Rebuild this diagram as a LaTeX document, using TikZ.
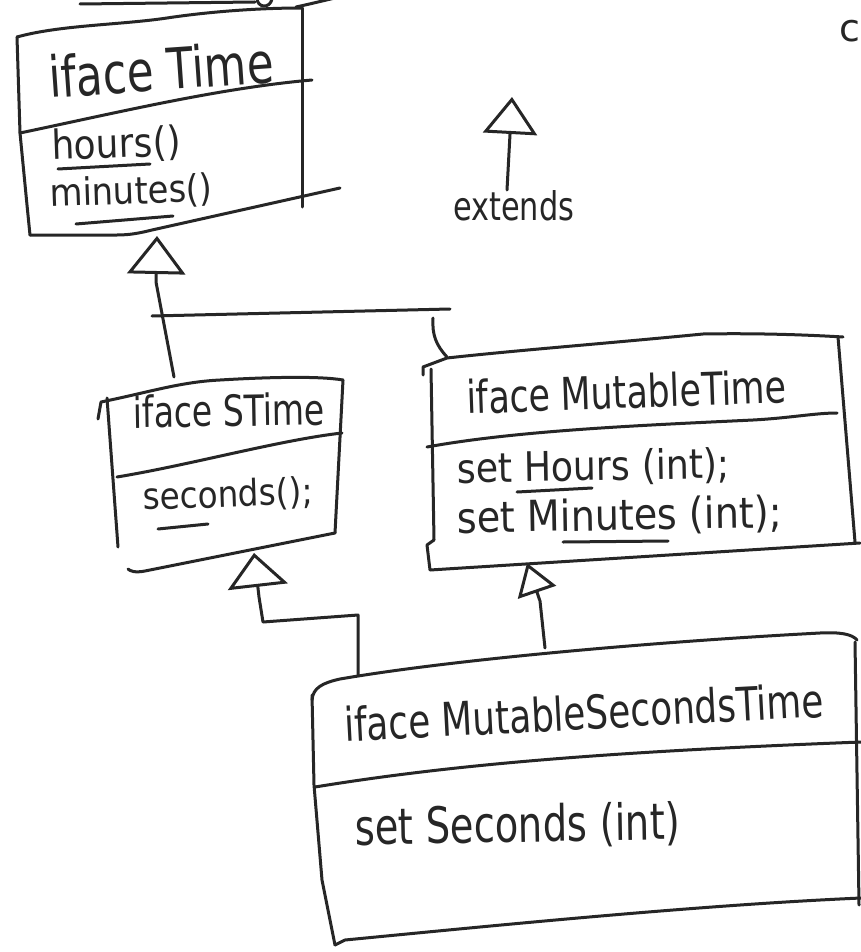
\documentclass[tikz,border=0pt]{standalone}
\usepackage{fontspec}
\setmainfont{DejaVu Sans}
\usepackage{graphicx}
\usetikzlibrary{arrows.meta}
\definecolor{ink}{HTML}{262626}
% scale a piece of text to a given width, then stretch it upward a little
\newcommand\fitw[2]{\scalebox{1}[1.3]{\resizebox{#1}{!}{#2}}}
% the same for member lines, with less stretch
\newcommand\fitm[2]{\scalebox{1}[1.12]{\resizebox{#1}{!}{#2}}}

\begin{document}
\begin{tikzpicture}[x=1pt,y=-1pt,line cap=round,line join=round,
  pen/.style={draw=ink,line width=3pt},
  hw/.style={anchor=base west,inner sep=0pt,text=ink},
  gen/.style 2 args={pen,-{Triangle[open,fill=white,width=#1,length=#2,line width=3pt]}}]

\useasboundingbox (0,0) rectangle (861,952);
\fill[white] (0,0) rectangle (861,952);
\clip (0,0) rectangle (861,952);

% strokes reaching in from above
\draw[pen] (80,4) -- (255,2);
\draw[pen] (257,-2) .. controls (257,8) and (270,9) .. (272,-1);
\draw[pen] (296,7) .. controls (310,4) and (322,1) .. (335,-2);
\node[hw] (cfrag) at (839,42) {\fontsize{38}{38}\selectfont c};

% ---------- iface Time ----------
\draw[pen] (17,37) .. controls (60,25) and (120,25) .. (167,18) .. controls (200,13) and (250,8) .. (302,8);
\draw[pen] (302,8) -- (302,207);
\draw[pen] (17,37) -- (20,133) -- (27,205) -- (30,235);
\draw[pen] (30,235) -- (117,235) .. controls (130,235) and (140,233) .. (152,230) -- (340,188);
\draw[pen] (20,133) .. controls (120,112) and (220,88) .. (312,80);
\node[hw,rotate=4] (time-name) at (50,98) {\fitw{225pt}{iface Time}};
\node[hw,rotate=2] (time-m1) at (52,160) {\fitm{129pt}{hours()}};
\node[hw,rotate=2] (time-m2) at (50,207) {\fitm{163pt}{minutes()}};
\draw[pen] (58,169) -- (150,164);
\draw[pen] (76,224) -- (173,216);
\coordinate (time-bot) at (157,236);

% ---------- extends legend ----------
\coordinate (ext-tail) at (507,190);
\coordinate (ext-head) at (512,97);
\draw[gen={54pt}{37pt}] (ext-tail) -- (ext-head);
\node[hw] (ext) at (453,220) {\fitw{121pt}{extends}};

% ---------- iface STime ----------
\draw[pen] (98,419) -- (101,402) .. controls (150,392) and (180,382) .. (220,380) .. controls (270,377) and (320,376) .. (343,380);
\draw[pen] (343,380) -- (335,533);
\draw[pen] (107,398) -- (118,547);
\draw[pen] (117,477) .. controls (190,465) and (280,440) .. (342,433);
\draw[pen] (335,533) -- (145,571) .. controls (135,573) and (130,571) .. (128,569);
\node[hw,rotate=1] (stime-name) at (133,428) {\fitw{192pt}{iface STime}};
\node[hw,rotate=2] (stime-m1) at (143,510) {\fitm{170pt}{seconds();}};
\draw[pen] (158,529) -- (208,524);
\coordinate (stime-top) at (174,377);
\coordinate (stime-bot) at (254,553);

% ---------- iface MutableTime ----------
\draw[pen] (423,375) -- (423,367) -- (447,358) .. controls (520,350) and (600,344) .. (703,334) .. controls (760,333) and (810,335) .. (843,337);
\draw[pen] (838,337) -- (855,542);
\draw[pen] (431,369) -- (434,540);
\draw[pen] (434,540) -- (427,545) -- (430,570) -- (860,543);
\draw[pen] (427,447) .. controls (520,430) and (650,425) .. (753,420) .. controls (790,418) and (815,413) .. (837,413);
\node[hw,rotate=2] (mt-name) at (467,414) {\fitw{320pt}{iface MutableTime}};
\node[hw,rotate=1] (mt-m1) at (457,483) {\fitm{273pt}{set Hours (int);}};
\node[hw,rotate=1] (mt-m2) at (457,533) {\fitm{325pt}{set Minutes (int);}};
\draw[pen] (517,492) -- (592,488);
\draw[pen] (563,542) -- (668,541);
\coordinate (mt-top) at (447,357);
\coordinate (mt-bot) at (527,563);

% ---------- iface MutableSecondsTime ----------
\draw[pen] (312,700) .. controls (313,688) and (322,683) .. (340,679) .. controls (450,660) and (650,642) .. (820,633) .. controls (840,632) and (852,634) .. (857,640);
\draw[pen] (855,642) -- (859,905);
\draw[pen] (312,695) -- (314,785) -- (322,880) -- (335,945);
\draw[pen] (335,945) -- (345,940) .. controls (500,925) and (700,905) .. (861,898);
\draw[pen] (315,787) .. controls (450,765) and (600,752) .. (861,742);
\node[hw,rotate=3] (mst-name) at (345,742) {\fitw{480pt}{iface MutableSecondsTime}};
\node[hw,rotate=1] (mst-m1) at (355,845) {\fitw{325pt}{set Seconds (int)}};
\coordinate (mst-top1) at (358,675);
\coordinate (mst-top2) at (545,648);

% ---------- generalisation connectors ----------
\coordinate (jl) at (152,316);
\coordinate (jr) at (450,309);
\coordinate (mt-up) at (433,318);
\draw[gen={58pt}{38pt}] (stime-top) -- (156,282) -- (time-bot);
\draw[pen] (jl) -- (jr);
\draw[pen] (mt-top) .. controls (436,345) and (432,335) .. (mt-up);
\draw[gen={60pt}{34pt}] (mst-top1) -- (358,615) -- (263,622) -- (259,597) -- (stime-bot);
\draw[gen={40pt}{31pt}] (mst-top2) -- (540,601) -- (mt-bot);

\end{tikzpicture}
\end{document}
